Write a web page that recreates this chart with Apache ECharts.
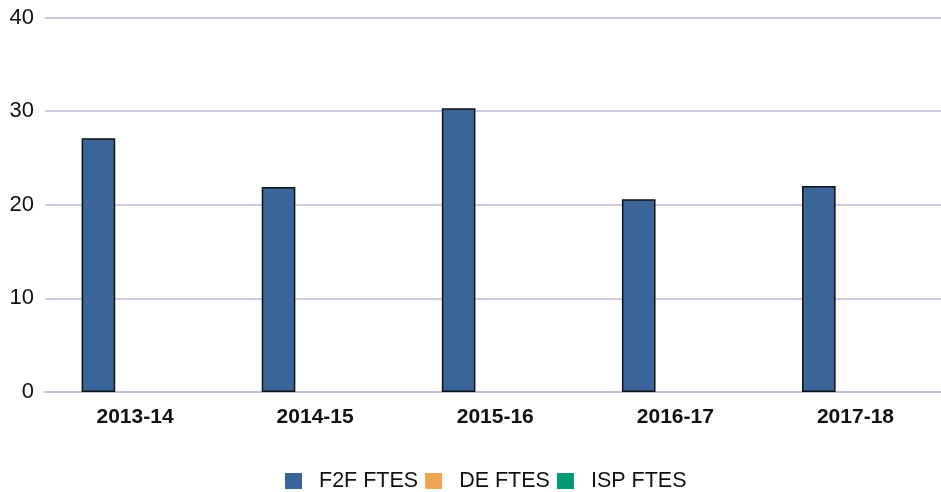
<!DOCTYPE html>
<html>
<head>
<meta charset="utf-8">
<script src="https://cdn.jsdelivr.net/npm/echarts@6/dist/echarts.min.js"></script>
<style>
  html, body { margin: 0; padding: 0; background: #fff; }
  #chart { width: 941px; height: 492px; }
</style>
</head>
<body>
<div id="chart"></div>
<script>
// data
const categories = ['2013-14', '2014-15', '2015-16', '2016-17', '2017-18']
const f2fFtes = [27.1, 21.9, 30.3, 20.6, 22.0]
const deFtes = [null, null, null, null, null]
const ispFtes = [null, null, null, null, null]
const seriesNames = ['F2F FTES', 'DE FTES', 'ISP FTES']
const seriesColors = ['#3a6598', '#f0a352', '#009a76']

const chart = echarts.init(document.getElementById('chart'))

const barStyle = {
  type: 'bar',
  barWidth: 33.6,
  barGap: '9%',
  itemStyle: { borderColor: '#111', borderWidth: 1.5 }
}

chart.setOption({
  animation: false,
  color: seriesColors,
  grid: { left: 45, width: 900.5, top: 17.5, bottom: 100, outerBoundsMode: 'none' },
  legend: {
    left: 280,
    top: 465,
    itemWidth: 17,
    itemHeight: 16,
    itemGap: 7,
    icon: 'rect',
    itemStyle: { borderWidth: 0 },
    textStyle: {
      fontFamily: 'Liberation Sans, Arial, sans-serif',
      fontSize: 21.5,
      color: '#111',
      padding: [0, 0, 0, 12]
    },
    data: seriesNames
  },
  xAxis: {
    type: 'category',
    data: categories,
    axisLine: { show: true, lineStyle: { color: '#bdbbd6', width: 1.5 } },
    axisTick: { show: false },
    axisLabel: {
      fontFamily: 'Liberation Sans, Arial, sans-serif',
      fontSize: 21,
      fontWeight: 'bold',
      color: '#111',
      margin: 15
    }
  },
  yAxis: {
    type: 'value',
    min: 0,
    max: 40,
    interval: 10,
    axisLine: { show: false },
    axisTick: { show: false },
    splitLine: { lineStyle: { color: '#bdbbd6', width: 1.5 } },
    axisLabel: {
      fontFamily: 'Liberation Sans, Arial, sans-serif',
      fontSize: 22,
      color: '#111',
      margin: 11
    }
  },
  series: [
    { ...barStyle, name: seriesNames[0], data: f2fFtes },
    { ...barStyle, name: seriesNames[1], data: deFtes },
    { ...barStyle, name: seriesNames[2], data: ispFtes }
  ]
})
</script>
</body>
</html>
